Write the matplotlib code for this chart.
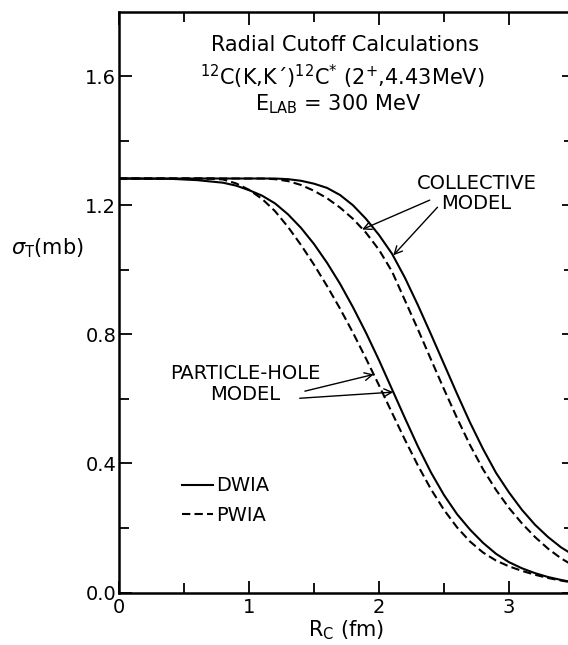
"""
Radial cutoff calculations, 12C(K,K')12C* (2+, 4.43 MeV), E_LAB = 300 MeV.
sigma_T vs R_c per modello collettivo / particella-buca, DWIA (solido) e PWIA (tratteggio).
Valori letti a occhio dalla figura originale.
"""
import matplotlib
matplotlib.use("Agg")
import matplotlib.pyplot as plt

# particle-hole, DWIA
ph_dw_x = [0.0, 0.4, 0.6, 0.8, 0.9, 1.0, 1.1, 1.2, 1.3, 1.4, 1.5, 1.6, 1.7, 1.8, 1.9, 2.0,
           2.1, 2.2, 2.3, 2.4, 2.5, 2.6, 2.7, 2.8, 2.9, 3.0, 3.1, 3.2, 3.3, 3.4, 3.5]
ph_dw_y = [1.283, 1.282, 1.278, 1.270, 1.261, 1.247, 1.230, 1.206, 1.172, 1.130, 1.080,
           1.022, 0.957, 0.884, 0.805, 0.720, 0.630, 0.540, 0.452, 0.372, 0.302, 0.243,
           0.195, 0.154, 0.120, 0.094, 0.075, 0.060, 0.048, 0.039, 0.031]
# particle-hole, PWIA
ph_pw_x = [0.0, 0.7, 0.8, 0.9, 1.0, 1.1, 1.2, 1.3, 1.4, 1.5, 1.6, 1.7, 1.8, 1.9, 2.0,
           2.1, 2.2, 2.3, 2.4, 2.5, 2.6, 2.7, 2.8, 2.9, 3.0, 3.1, 3.2, 3.3, 3.4, 3.5]
ph_pw_y = [1.283, 1.283, 1.280, 1.268, 1.248, 1.220, 1.182, 1.133, 1.077, 1.016, 0.950,
           0.880, 0.805, 0.725, 0.642, 0.557, 0.473, 0.393, 0.320, 0.256, 0.202, 0.158,
           0.124, 0.099, 0.081, 0.067, 0.055, 0.045, 0.037, 0.030]
# collective, DWIA
co_dw_x = [0.0, 1.2, 1.3, 1.4, 1.5, 1.6, 1.7, 1.8, 1.9, 2.0, 2.1, 2.2, 2.3, 2.4, 2.5,
           2.6, 2.7, 2.8, 2.9, 3.0, 3.1, 3.2, 3.3, 3.4, 3.5]
co_dw_y = [1.283, 1.283, 1.281, 1.276, 1.267, 1.254, 1.232, 1.200, 1.158, 1.108, 1.050,
           0.975, 0.890, 0.800, 0.708, 0.616, 0.527, 0.445, 0.371, 0.310, 0.256, 0.210,
           0.172, 0.140, 0.115]
# collective, PWIA
co_pw_x = [0.0, 1.1, 1.2, 1.3, 1.4, 1.5, 1.6, 1.7, 1.8, 1.9, 2.0, 2.1, 2.2, 2.3, 2.4,
           2.5, 2.6, 2.7, 2.8, 2.9, 3.0, 3.1, 3.2, 3.3, 3.4, 3.5]
co_pw_y = [1.283, 1.283, 1.281, 1.275, 1.263, 1.245, 1.222, 1.193, 1.158, 1.115, 1.062,
           0.995, 0.905, 0.815, 0.722, 0.630, 0.541, 0.457, 0.382, 0.318, 0.262, 0.214,
           0.172, 0.136, 0.106, 0.082]

x_ticks = [0, 1, 2, 3]
y_ticks = [0.0, 0.4, 0.8, 1.2, 1.6]

plt.rcParams["font.family"] = ["DejaVu Sans"]
plt.rcParams["mathtext.fontset"] = "dejavusans"

fig = plt.figure(figsize=(5.68, 6.45), dpi=100)
ax = fig.add_axes([119 / 568, 52.5 / 645, 455 / 568, 580.8 / 645])

kw = dict(color="black", lw=1.5)
dash = (0, (4, 2))
l_dw, = ax.plot(ph_dw_x, ph_dw_y, ls="-", **kw)
l_pw, = ax.plot(ph_pw_x, ph_pw_y, ls=dash, **kw)
ax.plot(co_dw_x, co_dw_y, ls="-", **kw)
ax.plot(co_pw_x, co_pw_y, ls=dash, **kw)

ax.set_xlim(0, 3.5); ax.set_ylim(0, 1.8)
ax.set_xticks(x_ticks); ax.set_xticklabels([str(v) for v in x_ticks])
ax.set_xticks([0.5, 1.5, 2.5], minor=True)
ax.set_yticks(y_ticks); ax.set_yticklabels(["%.1f" % v for v in y_ticks])
ax.set_yticks([0.2, 0.6, 1.0, 1.4], minor=True)
ax.tick_params(which="both", direction="in", top=True, right=True, width=1.3, labelsize=14)
ax.tick_params(which="major", length=9)
ax.tick_params(which="minor", length=7)
ax.tick_params(axis="y", pad=2); ax.tick_params(axis="x", pad=4)
for s in ax.spines.values():
    s.set_linewidth(1.8)

ax.set_ylabel(r"$\sigma_\mathrm{T}$(mb)", rotation=0, fontsize=15, ha="center", va="center")
ax.yaxis.set_label_coords(-0.158, 0.593)
ax.set_xlabel(r"R$_\mathrm{C}$ (fm)", fontsize=15, va="top")
ax.xaxis.set_label_coords(0.5, -0.045)

ax.text(1.74, 1.696, "Radial Cutoff Calculations", ha="center", va="center", fontsize=15)
ax.text(1.72, 1.597, r"$^{12}$C(K,K´)$^{12}$C$^{*}$ (2$^{+}$,4.43MeV)",
        ha="center", va="center", fontsize=15)
ax.text(1.685, 1.513, r"E$_\mathrm{LAB}$ = 300 MeV", ha="center", va="center", fontsize=15)

ax.text(2.75, 1.237, "COLLECTIVE\nMODEL", ha="center", va="center", fontsize=14,
        multialignment="center", linespacing=1.1)
ax.text(0.97, 0.646, "PARTICLE-HOLE\nMODEL", ha="center", va="center", fontsize=14,
        multialignment="center", linespacing=1.1)

arr = dict(arrowstyle="->", lw=1.0, color="black", shrinkA=0, shrinkB=0, mutation_scale=14)
for tail, tip in [((2.39, 1.216), (1.87, 1.125)), ((2.45, 1.194), (2.11, 1.045)),
                  ((1.43, 0.624), (1.96, 0.676)), ((1.39, 0.602), (2.11, 0.621))]:
    ax.annotate("", xy=tip, xytext=tail, arrowprops=arr)

ax.legend([l_dw, l_pw], ["DWIA", "PWIA"], loc="upper left", bbox_to_anchor=(0.138, 0.20),
          frameon=False, fontsize=14, handlelength=1.6, handletextpad=0.15,
          labelspacing=0.55, borderpad=0, borderaxespad=0)

fig.savefig("out.png", dpi=100)
